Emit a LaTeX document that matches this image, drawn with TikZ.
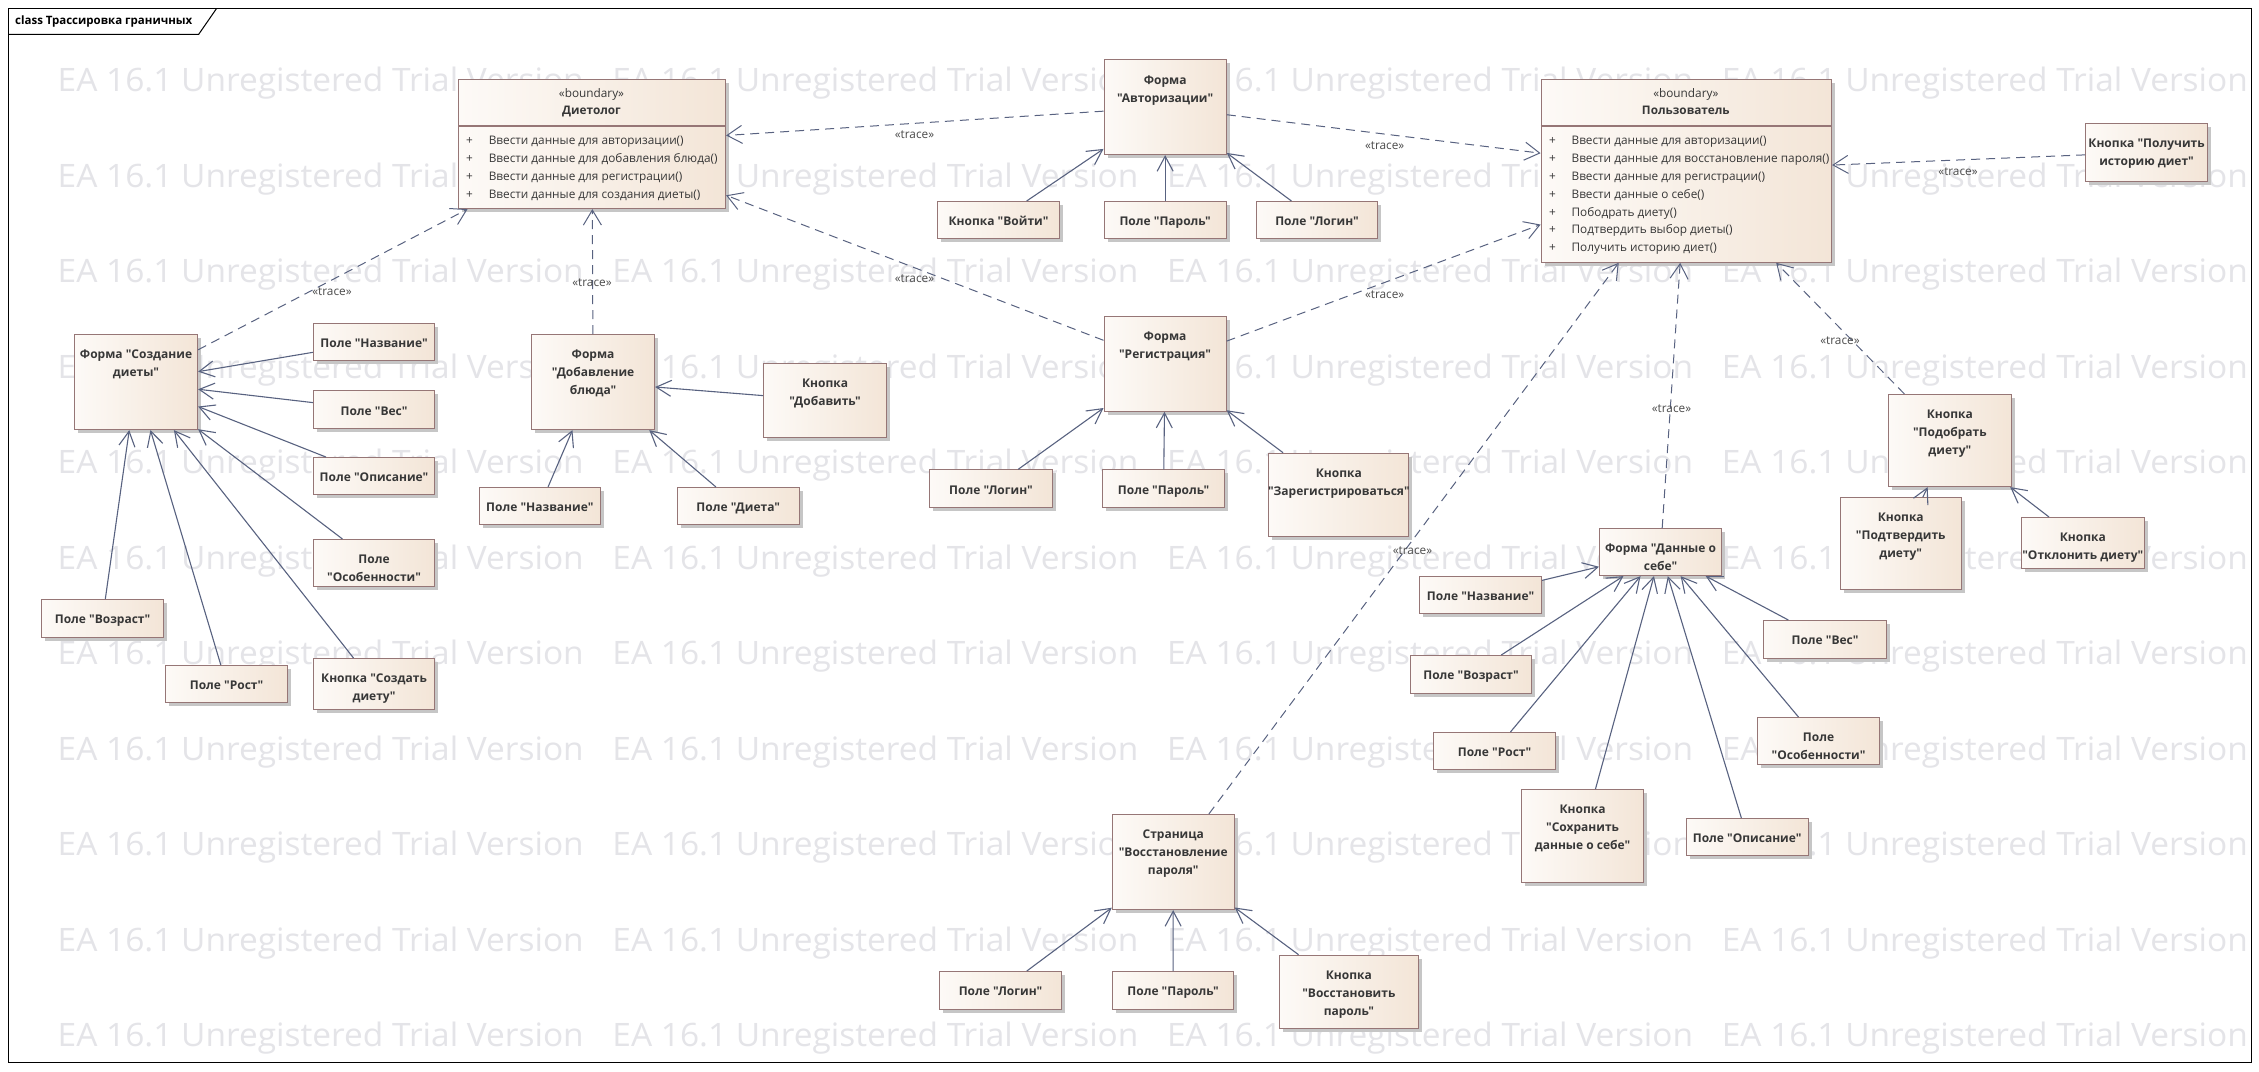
\documentclass[tikz,border=0pt]{standalone}
\usepackage{fontspec}
\setmainfont{Open Sans}
\newfontfamily\osans{Open Sans}
\usetikzlibrary{arrows.meta,shadows,calc}
\definecolor{lineC}{RGB}{88,98,128}
\definecolor{boxB}{RGB}{150,118,118}
\definecolor{fillL}{RGB}{253,250,247}
\definecolor{fillR}{RGB}{243,229,215}
\definecolor{txtC}{RGB}{55,55,55}
\definecolor{wmC}{RGB}{228,228,232}
\definecolor{shadC}{RGB}{198,198,198}
\newcommand\etxt{\osans\fontsize{12}{18}\selectfont\bfseries}
\newcommand\atxt{\osans\fontsize{11.8}{18}\selectfont}
\newcommand\ttltxt{\osans\fontsize{11.5}{14}\selectfont\bfseries}
\newcommand\trtxt{\osans\fontsize{11.8}{13}\selectfont}
\tikzset{
  elem/.style={draw=boxB, line width=1.1pt, left color=fillL, right color=fillR,
    general shadow={fill=shadC, shadow xshift=3.5pt, shadow yshift=-3.5pt},
    inner sep=0pt, anchor=north west},
  etext/.style={anchor=north, inner sep=0pt, align=center, text=txtC, font=\etxt},
  attr/.style={anchor=base west, inner sep=0pt, text=txtC, font=\atxt},
  chead/.style={anchor=base, inner sep=0pt, text=txtC, font=\atxt},
  assoc/.style={draw=lineC, line width=1.1pt, -{Straight Barb[length=15pt,width=16pt,line width=1.1pt]}},
  trace/.style={draw=lineC, line width=1pt, dash pattern=on 9pt off 6pt,
    -{Straight Barb[length=15pt,width=18pt,line width=1pt]}},
  tlabel/.style={inner sep=0pt, text=txtC!90, font=\trtxt},
  wm/.style={anchor=base west, inner sep=0pt, text=wmC}
}
\newcommand\elembox[6]{%
  \node[elem, minimum width={#4-#2}, minimum height={#5-#3}] (#1) at (#2,#3) {};
  \node[etext] (#1-t) at ($(#1.north)+(0,12)$) {\strut #6};
}
\begin{document}
\begin{tikzpicture}[x=1pt,y=-1pt]
\useasboundingbox (0,0) rectangle (2259,1071);
\fill[white] (0,0) rectangle (2259,1071);
% watermark
\foreach \c in {0,...,3}{
  \foreach \r in {0,...,10}{
    \node[wm] (wm-\c-\r) at ({57.5+554.7*\c},{91.7+95.5*\r})
      {\resizebox{526pt}{24.5pt}{\osans EA 16.1 Unregistered Trial Version}};
  }
}
% frame
\draw[line width=1pt] (8,8) rectangle (2251,1062);
\draw[line width=1pt] (8,34.3) -- (198.7,34.3) -- (216.7,8.3);
\node[anchor=west, inner sep=0pt, font=\ttltxt, text=black] (title) at (15,21.5) {class Трассировка граничных};

% class Диетолог
\node[elem, minimum width=267, minimum height=129] (diet) at (458,79) {};
\draw[boxB, line width=1.1pt] (458,126) -- (725,126);
\node[chead] (diet-st) at (591.5,97) {«boundary»};
\node[chead, font=\atxt\bfseries] (diet-nm) at (591.5,114.5) {Диетолог};
\node[attr] (diet-p1) at (466,144.3) {+};
\node[attr] (diet-a1) at (488.6,144.3) {Ввести данные для авторизации()};
\node[attr] (diet-p2) at (466,162) {+};
\node[attr] (diet-a2) at (488.6,162) {Ввести данные для добавления блюда()};
\node[attr] (diet-p3) at (466,180) {+};
\node[attr] (diet-a3) at (488.6,180) {Ввести данные для регистрации()};
\node[attr] (diet-p4) at (466,198) {+};
\node[attr] (diet-a4) at (488.6,198) {Ввести данные для создания диеты()};

% class Пользователь
\node[elem, minimum width=290.4, minimum height=182.7] (pol) at (1540.6,79) {};
\draw[boxB, line width=1.1pt] (1540.6,126) -- (1831,126);
\node[chead] (pol-st) at (1685.8,97) {«boundary»};
\node[chead, font=\atxt\bfseries] (pol-nm) at (1685.8,114.5) {Пользователь};
\node[attr] (pol-p1) at (1549,144.3) {+};
\node[attr] (pol-a1) at (1571.4,144.3) {Ввести данные для авторизации()};
\node[attr] (pol-p2) at (1549,162.3) {+};
\node[attr] (pol-a2) at (1571.4,162.3) {Ввести данные для восстановление пароля()};
\node[attr] (pol-p3) at (1549,180.3) {+};
\node[attr] (pol-a3) at (1571.4,180.3) {Ввести данные для регистрации()};
\node[attr] (pol-p4) at (1549,198.3) {+};
\node[attr] (pol-a4) at (1571.4,198.3) {Ввести данные о себе()};
\node[attr] (pol-p5) at (1549,216.3) {+};
\node[attr] (pol-a5) at (1571.4,216.3) {Пободрать диету()};
\node[attr] (pol-p6) at (1549,233.6) {+};
\node[attr] (pol-a6) at (1571.4,233.6) {Подтвердить выбор диеты()};
\node[attr] (pol-p7) at (1549,251.3) {+};
\node[attr] (pol-a7) at (1571.4,251.3) {Получить историю диет()};

% elements
\elembox{auth}{1103.5}{59.3}{1225.7}{154}{Форма\\"Авторизации"}
\elembox{voyti}{937}{201}{1059}{238}{Кнопка "Войти"}
\elembox{parA}{1103.5}{201}{1225.7}{238}{Поле "Пароль"}
\elembox{loginA}{1256}{201}{1377}{238}{Поле "Логин"}
\elembox{reg}{1103.5}{316}{1225.5}{410.7}{Форма\\"Регистрация"}
\elembox{loginR}{929.3}{469.3}{1051.7}{507.3}{Поле "Логин"}
\elembox{parR}{1102}{469.3}{1224}{507.3}{Поле "Пароль"}
\elembox{zareg}{1268.3}{452.7}{1408.3}{535.7}{Кнопка\\"Зарегистрироваться"}
\elembox{sozd}{74}{334}{197}{429}{Форма "Создание\\диеты"}
\elembox{nazvD}{313}{323}{434}{360}{Поле "Название"}
\elembox{vesD}{313}{390.3}{434}{428}{Поле "Вес"}
\elembox{opisD}{313}{457}{434}{494}{Поле "Описание"}
\elembox{osobD}{313}{539}{434}{586}{Поле\\"Особенности"}
\elembox{vozrD}{41}{599}{163}{637}{Поле "Возраст"}
\elembox{rostD}{165}{665}{287}{702}{Поле "Рост"}
\elembox{sozdBtn}{313}{658}{434}{709}{Кнопка "Создать\\диету"}
\elembox{dish}{531}{334}{654}{429}{Форма\\"Добавление\\блюда"}
\elembox{dobBtn}{763}{363}{886}{437}{Кнопка\\"Добавить"}
\elembox{nazvB}{478.6}{487}{600}{524}{Поле "Название"}
\elembox{dietaB}{676.8}{487}{798.6}{524}{Поле "Диета"}
\elembox{self}{1599}{528}{1721}{575}{Форма "Данные о\\себе"}
\elembox{nazvS}{1419}{576}{1541}{613}{Поле "Название"}
\elembox{vozrS}{1410}{655}{1531}{693}{Поле "Возраст"}
\elembox{rostS}{1433}{732}{1555}{769}{Поле "Рост"}
\elembox{saveS}{1521}{789}{1643}{882}{Кнопка\\"Сохранить\\данные о себе"}
\elembox{opisS}{1685.5}{818}{1807.7}{855}{Поле "Описание"}
\elembox{osobS}{1757}{717}{1879}{764}{Поле\\"Особенности"}
\elembox{vesS}{1763}{620}{1886}{658}{Поле "Вес"}
\elembox{podob}{1888}{394}{2010.6}{486}{Кнопка\\"Подобрать\\диету"}
\elembox{podtv}{1839.6}{497}{1960.7}{589}{Кнопка\\"Подтвердить\\диету"}
\elembox{otkl}{2021}{517}{2143.5}{568}{Кнопка\\"Отклонить диету"}
\elembox{hist}{2085}{123}{2207}{180.7}{Кнопка "Получить\\историю диет"}
\elembox{recov}{1111.8}{814}{1233.6}{909}{Страница\\"Восстановление\\пароля"}
\elembox{loginC}{939}{971}{1061}{1009}{Поле "Логин"}
\elembox{parC}{1112}{971}{1233}{1009}{Поле "Пароль"}
\elembox{restBtn}{1278.6}{954.7}{1418}{1028}{Кнопка\\"Восстановить\\пароль"}

% associations
\foreach \a/\b in {voyti/auth, parA/auth, loginA/auth, loginR/reg, parR/reg, zareg/reg,
  nazvD/sozd, vesD/sozd, opisD/sozd, osobD/sozd, vozrD/sozd, rostD/sozd, sozdBtn/sozd,
  dobBtn/dish, nazvB/dish, dietaB/dish,
  nazvS/self, vozrS/self, rostS/self, saveS/self, opisS/self, osobS/self, vesS/self,
  podtv/podob, otkl/podob, loginC/recov, parC/recov, restBtn/recov}
  {\draw[assoc] (\a) -- (\b);}

% traces
\foreach \a/\b in {auth/diet, auth/pol, reg/diet, reg/pol, sozd/diet, dish/diet,
  self/pol, podob/pol, recov/pol, hist/pol}
  {\draw[trace] (\a) -- (\b);}

\node[tlabel] (tr1) at (914.5,135) {«trace»};
\node[tlabel] (tr2) at (1384.7,146) {«trace»};
\node[tlabel] (tr3) at (914.5,279) {«trace»};
\node[tlabel] (tr4) at (1384.7,295) {«trace»};
\node[tlabel] (tr5) at (332,291.7) {«trace»};
\node[tlabel] (tr6) at (592,283) {«trace»};
\node[tlabel] (tr7) at (1671.5,409) {«trace»};
\node[tlabel] (tr8) at (1840,340.7) {«trace»};
\node[tlabel] (tr9) at (1412.5,550.7) {«trace»};
\node[tlabel] (tr10) at (1958,171.7) {«trace»};
\end{tikzpicture}
\end{document}
